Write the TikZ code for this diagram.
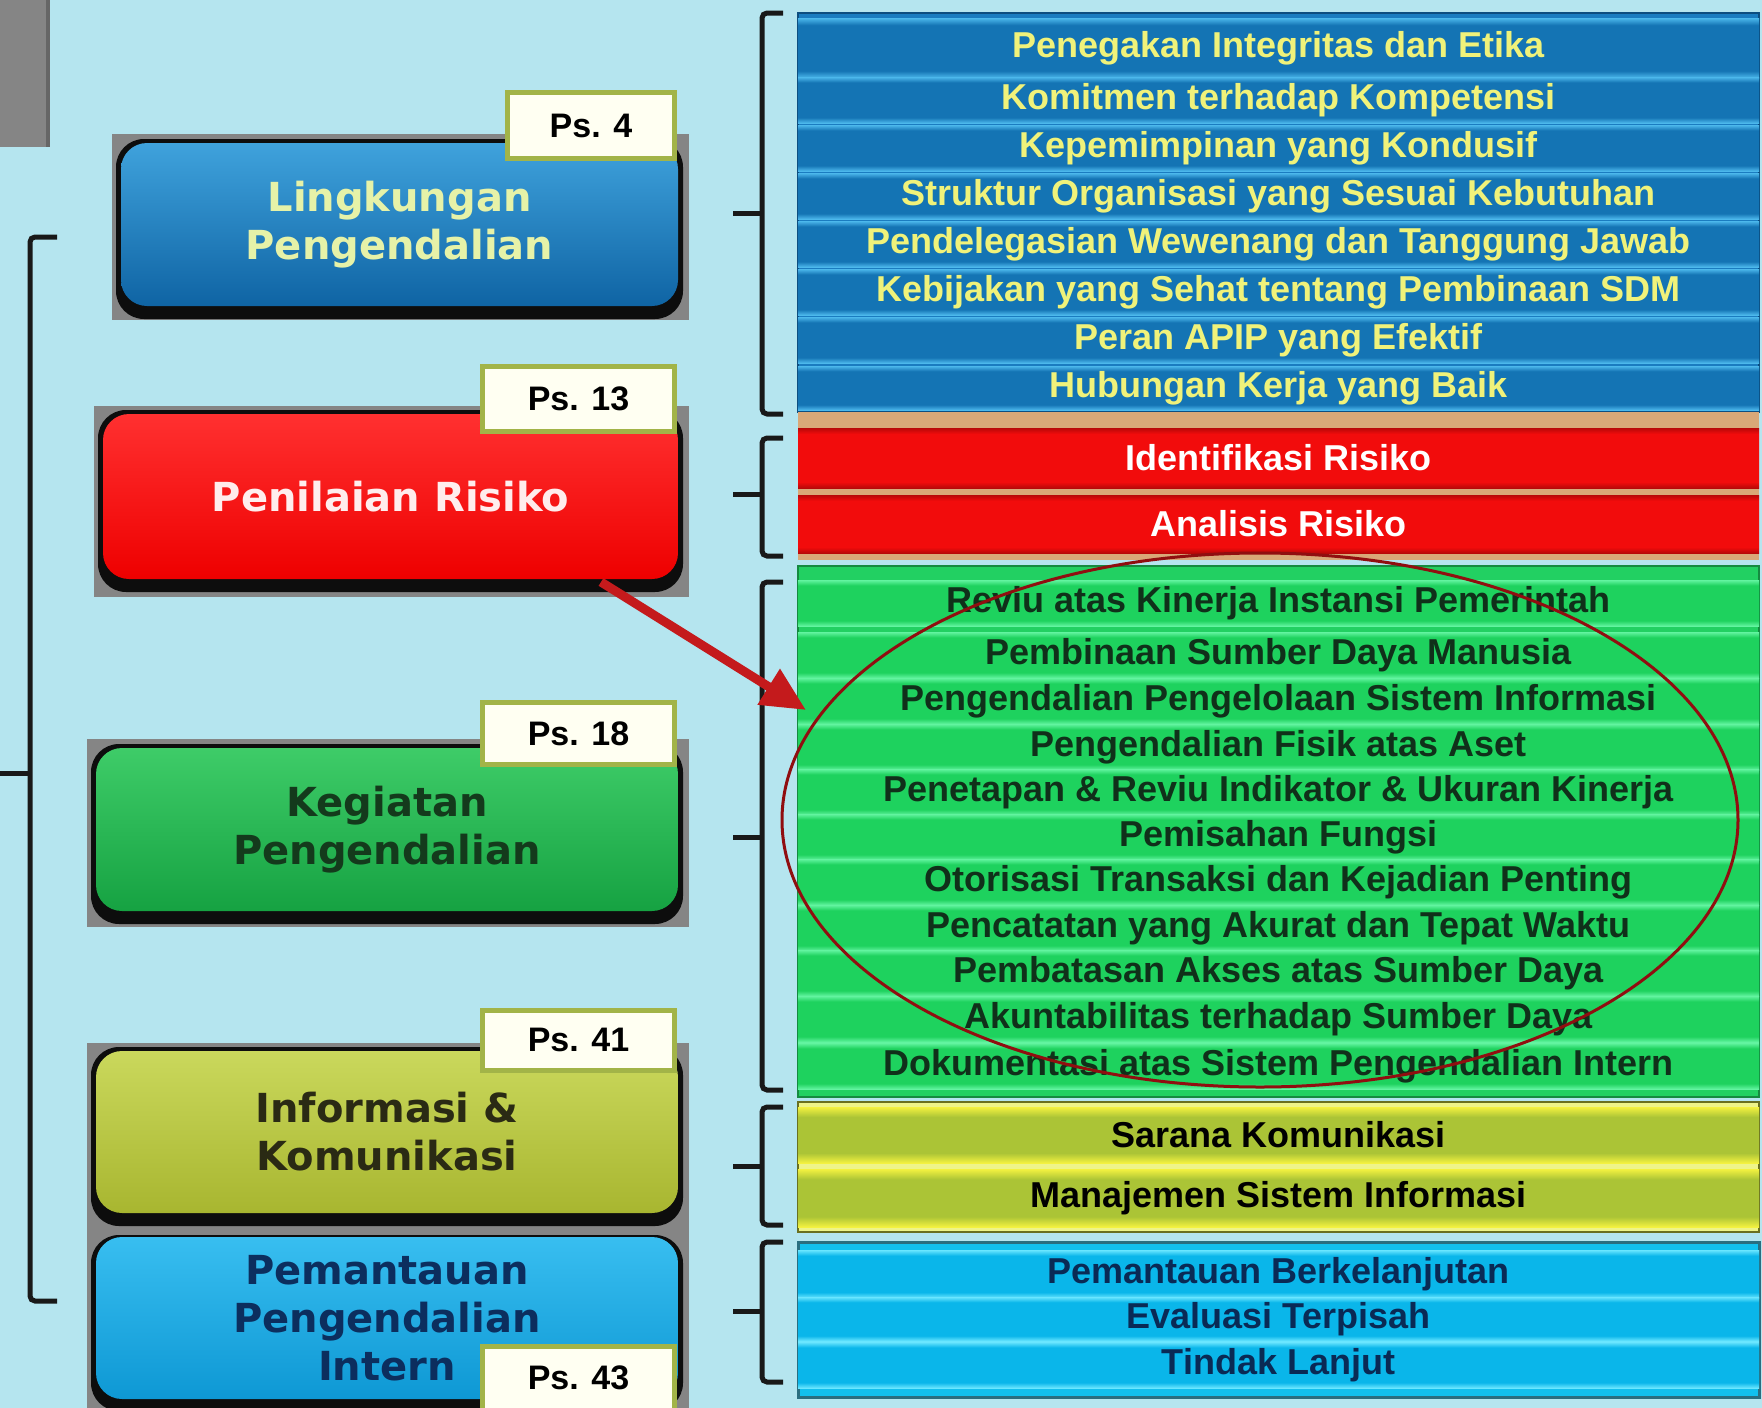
\documentclass[tikz,border=0pt]{standalone}
\usepackage{fontspec}
\setmainfont{Liberation Sans}
\newfontfamily\boxfont{DejaVu Sans}
\usetikzlibrary{arrows.meta,shapes.geometric}
\definecolor{bgc}{HTML}{B5E5EF}
\definecolor{grayback}{HTML}{858585}
\definecolor{bluelight}{HTML}{4CB8EC}
\definecolor{bluedark}{HTML}{1474B4}
\definecolor{greenlight}{HTML}{62F4A0}
\definecolor{greendark}{HTML}{1ED25E}
\definecolor{cyanlight}{HTML}{6AE6FF}
\definecolor{cyandark}{HTML}{0AB6EA}
\definecolor{yellowlight}{HTML}{F4F240}
\definecolor{yellowdark}{HTML}{ABC436}
\definecolor{redlight}{HTML}{B80808}
\definecolor{reddark}{HTML}{F20C0C}
\definecolor{bluetext}{HTML}{F0F27A}
\definecolor{greentext}{HTML}{10301A}
\definecolor{cyantext}{HTML}{0A2A55}
\definecolor{tagborder}{HTML}{A2B448}
\definecolor{tagfill}{HTML}{FFFFF2}
\definecolor{arrowred}{HTML}{C41A1C}
\definecolor{ellred}{HTML}{900E10}
\definecolor{lkTop}{HTML}{3FA2DC}
\definecolor{lkBot}{HTML}{0F64A4}
\definecolor{lkTxt}{HTML}{E6F2A8}
\definecolor{prTop}{HTML}{FF3030}
\definecolor{prBot}{HTML}{EE0000}
\definecolor{prTxt}{HTML}{FFEDED}
\definecolor{kpTop}{HTML}{3ECC68}
\definecolor{kpBot}{HTML}{16A242}
\definecolor{kpTxt}{HTML}{143A1C}
\definecolor{ikTop}{HTML}{CAD85C}
\definecolor{ikBot}{HTML}{A8B630}
\definecolor{ikTxt}{HTML}{2A2A14}
\definecolor{ppTop}{HTML}{38BEF0}
\definecolor{ppBot}{HTML}{0E98D4}
\definecolor{ppTxt}{HTML}{0C2E5E}
\definecolor{blueBack}{HTML}{1A7CC0}
\definecolor{blueEdge}{HTML}{0D4E80}
\definecolor{tanBack}{HTML}{D9A878}
\definecolor{greenBack}{HTML}{22D062}
\definecolor{greenEdge}{HTML}{158A40}
\definecolor{yelBack}{HTML}{EEF48A}
\definecolor{yelEdge}{HTML}{6A7020}
\definecolor{cyanBack}{HTML}{12C0EE}
\definecolor{cyanEdge}{HTML}{2A6E80}
\pgfdeclareverticalshading{bluerow}{100bp}{color(0bp)=(bluelight); color(25bp)=(bluelight); color(31bp)=(bluedark); color(69bp)=(bluedark); color(75bp)=(bluelight); color(100bp)=(bluelight)}
\pgfdeclareverticalshading{greenrow}{100bp}{color(0bp)=(greenlight); color(25bp)=(greenlight); color(31bp)=(greendark); color(69bp)=(greendark); color(75bp)=(greenlight); color(100bp)=(greenlight)}
\pgfdeclareverticalshading{cyanrow}{100bp}{color(0bp)=(cyanlight); color(25bp)=(cyanlight); color(31bp)=(cyandark); color(69bp)=(cyandark); color(75bp)=(cyanlight); color(100bp)=(cyanlight)}
\pgfdeclareverticalshading{yellowrow}{100bp}{color(0bp)=(yellowlight); color(25bp)=(yellowlight); color(34bp)=(yellowdark); color(66bp)=(yellowdark); color(75bp)=(yellowlight); color(100bp)=(yellowlight)}
\pgfdeclareverticalshading{redrow}{100bp}{color(0bp)=(redlight); color(25bp)=(redlight); color(30bp)=(reddark); color(70bp)=(reddark); color(75bp)=(redlight); color(100bp)=(redlight)}
\tikzset{
  row/.style={minimum width=961pt, minimum height=46pt, inner sep=0pt, shade,
    font=\bfseries\fontsize{36}{40}\selectfont},
  lbox/.style={rounded corners=26pt, minimum width=557pt, minimum height=163pt,
    align=center, inner sep=0pt, font=\boxfont\bfseries\fontsize{40}{48}\selectfont},
  tag/.style={draw=tagborder, line width=5pt, fill=tagfill, inner sep=0pt,
    minimum width=192pt, font=\bfseries\fontsize{34}{40}\selectfont},
  brk/.style={line width=5pt, draw=black!90, rounded corners=5pt},
  gback/.style={fill=grayback},
  kback/.style={fill=black!95, rounded corners=28pt},
  arr/.style={line width=9pt, draw=arrowred, -{Triangle[length=44pt,width=40pt]}},
  hilite/.style={ellipse, draw=ellred, line width=3pt, inner sep=0pt}
}
\begin{document}
\begin{tikzpicture}[x=1pt,y=-1pt]
\useasboundingbox (0,0) rectangle (1762,1408);
\clip (0,0) rectangle (1762,1408);
\fill[bgc] (0,0) rectangle (1762,1408);
% grey block top-left
\fill[grayback] (0,0) rectangle (50,147);
\fill[black!60] (46,0) rectangle (50,147);

% left bracket
\draw[brk] (57,237) -- (30,237) -- (30,1301) -- (57,1301);
\draw[brk] (30,773) -- (0,773);

% ---- left boxes ----
\fill[gback] (112,134) rectangle (689,320);
\fill[kback] (116,139) rectangle (683,319);
\node[lbox, top color=lkTop, bottom color=lkBot, text=lkTxt] (lk) at (399.5,224.5) {Lingkungan\\Pengendalian};
\node[tag, minimum width=167pt, minimum height=66pt] (ps4) at (591,125.5) {Ps. 4};

\fill[gback] (94,406) rectangle (689,597);
\fill[kback] (98,410) rectangle (683,592);
\node[lbox, minimum width=575pt, minimum height=165pt, top color=prTop, bottom color=prBot, text=prTxt] (pr) at (390.5,496.5) {Penilaian Risiko};
\node[tag, minimum height=65pt] (ps13) at (578.5,399) {Ps. 13};

\fill[gback] (87,739) rectangle (689,927);
\fill[kback] (91,744) rectangle (683,924);
\node[lbox, minimum width=582pt, top color=kpTop, bottom color=kpBot, text=kpTxt] (kp) at (387,829.5) {Kegiatan\\Pengendalian};
\node[tag, minimum height=62pt] (ps18) at (578.5,733.5) {Ps. 18};

\fill[gback] (87,1043) rectangle (689,1231);
\fill[kback] (91,1047) rectangle (683,1226);
\node[lbox, minimum width=582pt, minimum height=162pt, top color=ikTop, bottom color=ikBot, text=ikTxt] (ik) at (387,1132) {Informasi \&\\Komunikasi};
\node[tag, minimum height=60pt] (ps41) at (578.5,1040) {Ps. 41};

\fill[gback] (87,1231) rectangle (689,1420);
\fill[kback] (91,1235) rectangle (683,1411);
\node[lbox, minimum width=582pt, minimum height=162pt, top color=ppTop, bottom color=ppBot, text=ppTxt] (pp) at (387,1318) {Pemantauan\\Pengendalian\\Intern};
\node[tag, minimum height=64pt] (ps43) at (578.5,1378) {Ps. 43};

% ---- right column: blue ----
\fill[blueBack, draw=blueEdge, line width=2pt] (798,13) rectangle (1759,412);
\node[row, shading=bluerow, minimum height=60pt, text=bluetext] (b1) at (1278.5,48) {Penegakan Integritas dan Etika};
\node[row, shading=bluerow, text=bluetext] (b2) at (1278.5,100) {Komitmen terhadap Kompetensi};
\node[row, shading=bluerow, text=bluetext] (b3) at (1278.5,148) {Kepemimpinan yang Kondusif};
\node[row, shading=bluerow, text=bluetext] (b4) at (1278.5,196) {Struktur Organisasi yang Sesuai Kebutuhan};
\node[row, shading=bluerow, text=bluetext] (b5) at (1278.5,244) {Pendelegasian Wewenang dan Tanggung Jawab};
\node[row, shading=bluerow, text=bluetext] (b6) at (1278.5,292) {Kebijakan yang Sehat tentang Pembinaan SDM};
\node[row, shading=bluerow, text=bluetext] (b7) at (1278.5,340) {Peran APIP yang Efektif};
\node[row, shading=bluerow, minimum height=44pt, text=bluetext] (b8) at (1278.5,388) {Hubungan Kerja yang Baik};
\draw[brk] (783,13) -- (762,13) -- (762,414) -- (783,414);
\draw[brk] (762,213) -- (733,213);

% ---- red ----
\fill[tanBack] (798,412) rectangle (1759,560);
\node[row, shading=redrow, minimum height=60pt, text=white] (r1) at (1278.5,458) {Identifikasi Risiko};
\node[row, shading=redrow, minimum height=58pt, text=white] (r2) at (1278.5,524) {Analisis Risiko};
\draw[brk] (783,438) -- (762,438) -- (762,556) -- (783,556);
\draw[brk] (762,494) -- (733,494);

% ---- green ----
\fill[greenBack, draw=greenEdge, line width=2pt] (798,566) rectangle (1759,1097);
\node[row, shading=greenrow, text=greentext] (g1) at (1278.5,603) {Reviu atas Kinerja Instansi Pemerintah};
\node[row, shading=greenrow, text=greentext] (g2) at (1278.5,655) {Pembinaan Sumber Daya Manusia};
\node[row, shading=greenrow, text=greentext] (g3) at (1278.5,701) {Pengendalian Pengelolaan Sistem Informasi};
\node[row, shading=greenrow, text=greentext] (g4) at (1278.5,747) {Pengendalian Fisik atas Aset};
\node[row, shading=greenrow, text=greentext] (g5) at (1278.5,792) {Penetapan \& Reviu Indikator \& Ukuran Kinerja};
\node[row, shading=greenrow, text=greentext] (g6) at (1278.5,837) {Pemisahan Fungsi};
\node[row, shading=greenrow, text=greentext] (g7) at (1278.5,882) {Otorisasi Transaksi dan Kejadian Penting};
\node[row, shading=greenrow, text=greentext] (g8) at (1278.5,928) {Pencatatan yang Akurat dan Tepat Waktu};
\node[row, shading=greenrow, text=greentext] (g9) at (1278.5,973) {Pembatasan Akses atas Sumber Daya};
\node[row, shading=greenrow, text=greentext] (g10) at (1278.5,1019) {Akuntabilitas terhadap Sumber Daya};
\node[row, shading=greenrow, text=greentext] (g11) at (1278.5,1066) {Dokumentasi atas Sistem Pengendalian Intern};
\draw[brk] (783,582) -- (762,582) -- (762,1090) -- (783,1090);
\draw[brk] (762,837) -- (733,837);

% ---- yellow ----
\fill[yelBack, draw=yelEdge, line width=2pt] (798,1102) rectangle (1759,1232);
\node[row, shading=yellowrow, minimum height=56pt, text=black] (y1) at (1278.5,1135) {Sarana Komunikasi};
\node[row, shading=yellowrow, minimum height=58pt, text=black] (y2) at (1278.5,1198) {Manajemen Sistem Informasi};
\draw[brk] (783,1107) -- (762,1107) -- (762,1225) -- (783,1225);
\draw[brk] (762,1166) -- (733,1166);

% ---- cyan ----
\fill[cyanBack, draw=cyanEdge, line width=3pt] (798,1242) rectangle (1759,1397);
\node[row, shading=cyanrow, minimum height=48pt, text=cyantext] (c1) at (1278.5,1274) {Pemantauan Berkelanjutan};
\node[row, shading=cyanrow, minimum height=44pt, text=cyantext] (c2) at (1278.5,1319) {Evaluasi Terpisah};
\node[row, shading=cyanrow, minimum height=46pt, text=cyantext] (c3) at (1278.5,1365) {Tindak Lanjut};
\draw[brk] (783,1242) -- (762,1242) -- (762,1382) -- (783,1382);
\draw[brk] (762,1311) -- (733,1311);

% ---- highlight ----
\node[hilite, minimum width=956pt, minimum height=534pt] (hl) at (1260,820) {};
\coordinate (as) at (601,582);
\coordinate (ae) at (806,710);
\draw[arr] (as) -- (ae);
\end{tikzpicture}
\end{document}
